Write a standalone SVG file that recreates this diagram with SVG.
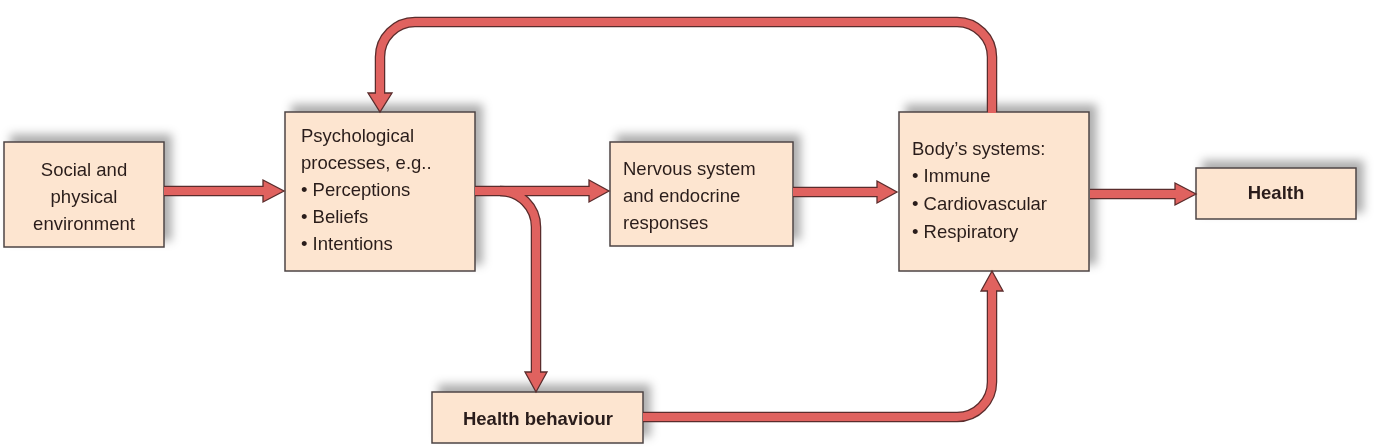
<svg xmlns="http://www.w3.org/2000/svg" width="1375" height="447" viewBox="0 0 1375 447">
<defs>
<filter id="sh" x="-20%" y="-40%" width="140%" height="180%">
<feGaussianBlur in="SourceAlpha" stdDeviation="5"/>
<feOffset dx="7" dy="-7" result="b"/>
<feFlood flood-color="#000" flood-opacity="0.32"/>
<feComposite in2="b" operator="in"/>
<feMerge><feMergeNode/><feMergeNode in="SourceGraphic"/></feMerge>
</filter>
</defs>
<style>
.box{fill:#fde5d0;stroke:#4d4444;stroke-width:1.5}
.t{font-family:"Liberation Sans",Arial,sans-serif;font-size:18.5px;fill:#2a1e1a}
.b{font-weight:bold}
.c{text-anchor:middle}
.o{fill:none;stroke:#5a2c2c;stroke-width:10.5}
.i{fill:none;stroke:#e0625f;stroke-width:8}
.h{fill:#e0625f;stroke:#5a2c2c;stroke-width:1.3;stroke-linejoin:miter}
</style>
<rect width="1375" height="447" fill="#fff"/>
<g id="node-social" filter="url(#sh)">
<rect class="box" x="4" y="142" width="160" height="105"/>
<text class="t c" x="84" y="176">Social and</text>
<text class="t c" x="84" y="203">physical</text>
<text class="t c" x="84" y="230">environment</text>
</g>
<g id="node-psych" filter="url(#sh)">
<rect class="box" x="285" y="112" width="190" height="159"/>
<text class="t" x="301" y="142">Psychological</text>
<text class="t" x="301" y="169">processes, e.g..</text>
<text class="t" x="301" y="196">• Perceptions</text>
<text class="t" x="301" y="223">• Beliefs</text>
<text class="t" x="301" y="250">• Intentions</text>
</g>
<g id="node-nervous" filter="url(#sh)">
<rect class="box" x="610" y="142" width="183" height="104"/>
<text class="t" x="623" y="175">Nervous system</text>
<text class="t" x="623" y="202">and endocrine</text>
<text class="t" x="623" y="229">responses</text>
</g>
<g id="node-body" filter="url(#sh)">
<rect class="box" x="899" y="112" width="190" height="159"/>
<text class="t" x="912" y="155">Body’s systems:</text>
<text class="t" x="912" y="182">• Immune</text>
<text class="t" x="912" y="210">• Cardiovascular</text>
<text class="t" x="912" y="238">• Respiratory</text>
</g>
<g id="node-health" filter="url(#sh)">
<rect class="box" x="1196" y="168" width="160" height="51"/>
<text class="t b c" x="1276" y="199">Health</text>
</g>
<g id="node-behaviour" filter="url(#sh)">
<rect class="box" x="432" y="392" width="211" height="51"/>
<text class="t b c" x="538" y="425">Health behaviour</text>
</g>
<g id="connectors">
<path class="o" d="M164 191 L265 191"/>
<path class="o" d="M475 191 L592 191"/>
<path class="o" d="M500 191 A36 36 0 0 1 536 227 L536 374"/>
<path class="o" d="M793 192 L879 192"/>
<path class="o" d="M1090 194 L1177 194"/>
<path class="o" d="M643 417 L957 417 A35 35 0 0 0 992 382 L992 289"/>
<path class="o" d="M992 112 L992 57 A35 35 0 0 0 957 22 L415 22 A35 35 0 0 0 380 57 L380 95"/>
<polygon class="h" points="263,180 284,191 263,202"/>
<polygon class="h" points="589,180 609,191 589,202"/>
<polygon class="h" points="525,372 536,392 547,372"/>
<polygon class="h" points="877,181 897,192 877,203"/>
<polygon class="h" points="1175,183 1196,194 1175,205"/>
<polygon class="h" points="981,291 992,271 1003,291"/>
<polygon class="h" points="368,93 380,112 392,93"/>
<path class="i" d="M164 191 L265 191"/>
<path class="i" d="M475 191 L592 191"/>
<path class="i" d="M500 191 A36 36 0 0 1 536 227 L536 374"/>
<path class="i" d="M793 192 L879 192"/>
<path class="i" d="M1090 194 L1177 194"/>
<path class="i" d="M643 417 L957 417 A35 35 0 0 0 992 382 L992 289"/>
<path class="i" d="M992 113 L992 57 A35 35 0 0 0 957 22 L415 22 A35 35 0 0 0 380 57 L380 95"/>
</g>
</svg>
